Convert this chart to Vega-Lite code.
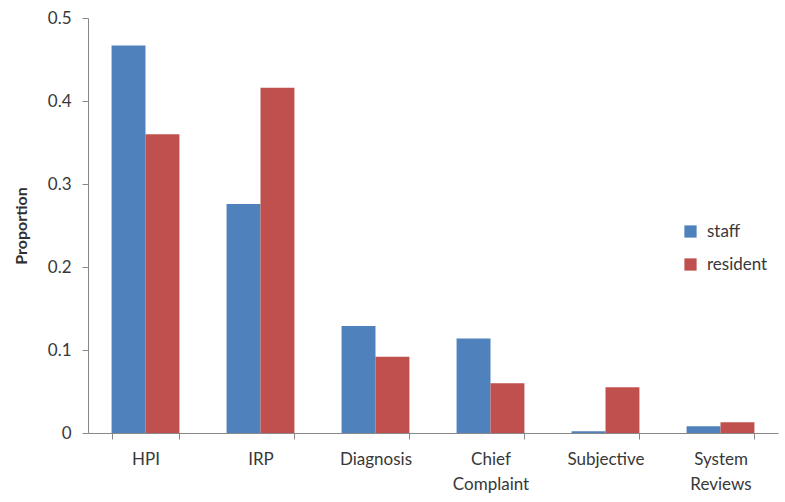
{
  "$schema": "https://vega.github.io/schema/vega-lite/v6.json",
  "autosize": {"type": "none"},
  "padding": {"left": 88, "top": 18, "right": 7, "bottom": 69},
  "width": 690,
  "height": 415,
  "background": "white",
  "config": {"view": {"stroke": null}, "font": "Lato"},
  "data": {"values": [
    {"category": "HPI", "group": "staff", "value": 0.467},
    {"category": "HPI", "group": "resident", "value": 0.360},
    {"category": "IRP", "group": "staff", "value": 0.276},
    {"category": "IRP", "group": "resident", "value": 0.416},
    {"category": "Diagnosis", "group": "staff", "value": 0.129},
    {"category": "Diagnosis", "group": "resident", "value": 0.092},
    {"category": "Chief Complaint", "group": "staff", "value": 0.114},
    {"category": "Chief Complaint", "group": "resident", "value": 0.060},
    {"category": "Subjective", "group": "staff", "value": 0.002},
    {"category": "Subjective", "group": "resident", "value": 0.055},
    {"category": "System Reviews", "group": "staff", "value": 0.008},
    {"category": "System Reviews", "group": "resident", "value": 0.013}
  ]},
  "mark": {"type": "bar"},
  "encoding": {
    "x": {
      "field": "category", "type": "nominal", "sort": null,
      "scale": {"paddingInner": 0.41, "paddingOuter": 0.205},
      "axis": {
        "title": null, "labelAngle": 0, "tickBand": "extent",
        "labelExpr": "split(datum.label, ' ')",
        "labelFontSize": 17, "labelColor": "#383838", "labelLineHeight": 25,
        "labelPadding": 12, "domainColor": "#888888", "tickColor": "#888888",
        "tickSize": 6, "labelBaseline": "top"
      }
    },
    "xOffset": {"field": "group", "type": "nominal", "sort": ["staff", "resident"]},
    "y": {
      "field": "value", "type": "quantitative",
      "scale": {"domain": [0, 0.5], "nice": false},
      "axis": {
        "title": "Proportion", "values": [0, 0.1, 0.2, 0.3, 0.4, 0.5],
        "format": "~g", "grid": false,
        "labelFontSize": 17, "labelColor": "#383838", "labelPadding": 11,
        "tickSize": 6, "domainColor": "#888888", "tickColor": "#888888",
        "titleFontSize": 16, "titleFontWeight": "bold", "titleColor": "#303030",
        "titlePadding": 18
      }
    },
    "color": {
      "field": "group", "type": "nominal", "sort": ["staff", "resident"],
      "scale": {"domain": ["staff", "resident"], "range": ["#4F81BD", "#C0504D"]},
      "legend": {
        "title": null, "orient": "none", "legendX": 594, "legendY": 205,
        "symbolType": "square", "symbolSize": 150, "labelFontSize": 17,
        "labelColor": "#383838", "rowPadding": 15, "labelOffset": 8
      }
    }
  }
}
